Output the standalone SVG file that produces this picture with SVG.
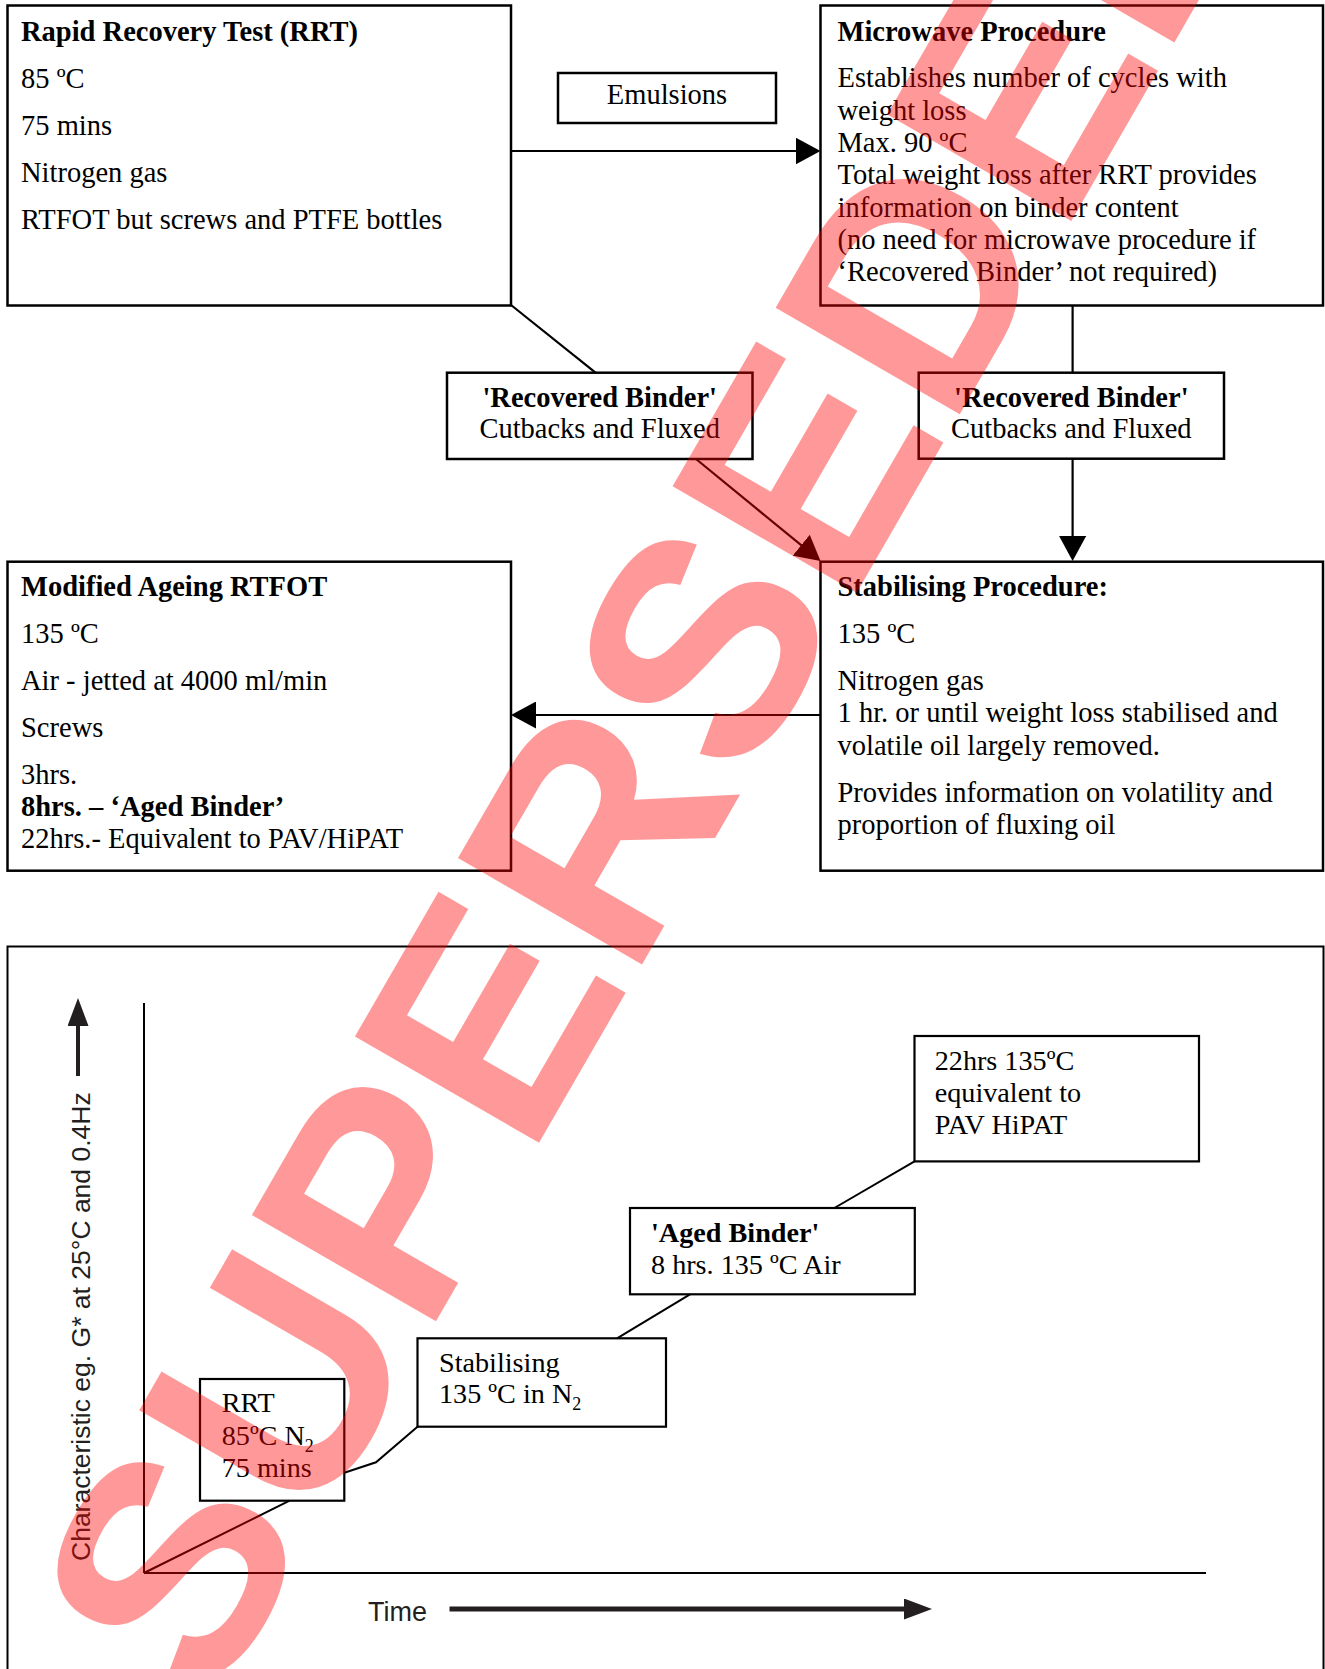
<svg xmlns="http://www.w3.org/2000/svg" width="1325" height="1669" viewBox="0 0 1325 1669">
<style>
  .box{fill:#fff;stroke:#000;stroke-width:2.5}
  .cbox{fill:#fff;stroke:#000;stroke-width:2.2}
  .t{font-family:"Liberation Serif","Times New Roman",serif;font-size:28.5px;fill:#000}
  .ct{font-family:"Liberation Serif","Times New Roman",serif;font-size:28.2px;fill:#000}
  .b{font-weight:bold}
  .c{text-anchor:middle}
  .ln{stroke:#000;stroke-width:2.2;fill:none}
  .cl{stroke:#000;stroke-width:2;fill:none}
  .sans{font-family:"Liberation Sans",Arial,sans-serif;fill:#231f20}
  .wm{font-family:"Liberation Sans",Arial,sans-serif;font-weight:bold;font-size:309px;fill:#ff0000;fill-opacity:0.4}
</style>
<defs>
  <marker id="ah" markerUnits="userSpaceOnUse" viewBox="0 0 25 27" markerWidth="25" markerHeight="27" refX="15" refY="13.5" orient="auto">
    <path d="M0,0 L25,13.5 L0,27 z" fill="#000"/>
  </marker>
  <marker id="ah2" markerUnits="userSpaceOnUse" viewBox="0 0 28 21" markerWidth="28" markerHeight="21" refX="18" refY="10.5" orient="auto">
    <path d="M0,0 L28,10.5 L0,21 z" fill="#231f20"/>
  </marker>
</defs>
<rect width="1325" height="1669" fill="#fff"/>

<g id="rrt">
  <rect class="box" x="7.5" y="5.5" width="503.5" height="300"/>
  <text class="t b" x="21" y="41">Rapid Recovery Test (RRT)</text>
  <text class="t" x="21" y="88">85 ºC</text>
  <text class="t" x="21" y="135">75 mins</text>
  <text class="t" x="21" y="182">Nitrogen gas</text>
  <text class="t" x="21" y="229">RTFOT but screws and PTFE bottles</text>
</g>

<g id="emulsions">
  <rect class="box" x="558" y="73" width="218" height="50"/>
  <text class="t c" x="667" y="104">Emulsions</text>
</g>

<g id="microwave">
  <rect class="box" x="820.5" y="5.5" width="502.5" height="300"/>
  <text class="t b" x="837.5" y="41">Microwave Procedure</text>
  <text class="t" x="837.5" y="87.3">Establishes number of cycles with</text>
  <text class="t" x="837.5" y="119.6">weight loss</text>
  <text class="t" x="837.5" y="151.9">Max. 90 ºC</text>
  <text class="t" x="837.5" y="184.2">Total weight loss after RRT provides</text>
  <text class="t" x="837.5" y="216.5">information on binder content</text>
  <text class="t" x="837.5" y="248.8">(no need for microwave procedure if</text>
  <text class="t" x="837.5" y="281.1">‘Recovered Binder’ not required)</text>
</g>

<g id="recovered-left">
  <rect class="box" x="447" y="372.7" width="305.5" height="86.3"/>
  <text class="t b c" x="599.7" y="406.5">'Recovered Binder'</text>
  <text class="t c" x="599.7" y="438">Cutbacks and Fluxed</text>
</g>

<g id="recovered-right">
  <rect class="box" x="918.7" y="372.7" width="305.3" height="86"/>
  <text class="t b c" x="1071.3" y="406.5">'Recovered Binder'</text>
  <text class="t c" x="1071.3" y="438">Cutbacks and Fluxed</text>
</g>

<g id="modified-ageing">
  <rect class="box" x="7.5" y="561.7" width="503.5" height="309"/>
  <text class="t b" x="21" y="596">Modified Ageing RTFOT</text>
  <text class="t" x="21" y="643.3">135 ºC</text>
  <text class="t" x="21" y="690">Air - jetted at 4000 ml/min</text>
  <text class="t" x="21" y="736.7">Screws</text>
  <text class="t" x="21" y="784">3hrs.</text>
  <text class="t b" x="21" y="816">8hrs. – ‘Aged Binder’</text>
  <text class="t" x="21" y="848.3">22hrs.- Equivalent to PAV/HiPAT</text>
</g>

<g id="stabilising">
  <rect class="box" x="820.5" y="561.7" width="502.5" height="309"/>
  <text class="t b" x="837.5" y="596">Stabilising Procedure:</text>
  <text class="t" x="837.5" y="643.3">135 ºC</text>
  <text class="t" x="837.5" y="690">Nitrogen gas</text>
  <text class="t" x="837.5" y="722">1 hr. or until weight loss stabilised and</text>
  <text class="t" x="837.5" y="754.5">volatile oil largely removed.</text>
  <text class="t" x="837.5" y="801.5">Provides information on volatility and</text>
  <text class="t" x="837.5" y="833.5">proportion of fluxing oil</text>
</g>

<g id="chart">
  <rect class="cl" x="7.5" y="946.5" width="1316" height="760"/>
  <line class="cl" x1="144" y1="1003" x2="144" y2="1573"/>
  <line class="cl" x1="144" y1="1573" x2="1206" y2="1573"/>
  <text class="sans" font-size="26.5" transform="translate(90,1561) rotate(-90)">Characteristic eg. G* at 25°C and 0.4Hz</text>
  <line stroke="#231f20" stroke-width="4" x1="78" y1="1076" x2="78" y2="1008" marker-end="url(#ah2)"/>
  <text class="sans" font-size="27" x="368" y="1621">Time</text>
  <line stroke="#231f20" stroke-width="5" x1="449.5" y1="1609" x2="922" y2="1609" marker-end="url(#ah2)"/>
</g>

<g id="chart-rrt">
  <rect class="cbox" x="200" y="1379" width="144.3" height="121.7"/>
  <text class="ct" x="221.7" y="1411.7">RRT</text>
  <text class="ct" x="221.7" y="1445">85ºC N<tspan font-size="18" dy="7">2</tspan></text>
  <text class="ct" x="221.7" y="1476.7">75 mins</text>
</g>

<g id="chart-stabilising">
  <rect class="cbox" x="417.5" y="1338.3" width="248.5" height="88.4"/>
  <text class="ct" x="439" y="1372">Stabilising</text>
  <text class="ct" x="439" y="1403">135 ºC in N<tspan font-size="18" dy="7">2</tspan></text>
</g>

<g id="chart-aged">
  <rect class="cbox" x="630" y="1208" width="284.8" height="86.3"/>
  <text class="ct b" x="651" y="1242">'Aged Binder'</text>
  <text class="ct" x="651" y="1274">8 hrs. 135 ºC Air</text>
</g>

<g id="chart-22hrs">
  <rect class="cbox" x="914.5" y="1036" width="284.5" height="125.4"/>
  <text class="ct" x="934.7" y="1070">22hrs 135ºC</text>
  <text class="ct" x="934.7" y="1102">equivalent to</text>
  <text class="ct" x="934.7" y="1134">PAV HiPAT</text>
</g>

<g id="connectors">
  <line class="ln" x1="511" y1="151" x2="810.5" y2="151" marker-end="url(#ah)"/>
  <line class="ln" x1="511" y1="305" x2="595.5" y2="372.7"/>
  <line class="ln" x1="1072.6" y1="305.5" x2="1072.6" y2="372.7"/>
  <line class="ln" x1="1072.6" y1="458.7" x2="1072.6" y2="551" marker-end="url(#ah)"/>
  <line class="ln" x1="696" y1="459" x2="812.8" y2="554.7" marker-end="url(#ah)"/>
  <line class="ln" x1="820.5" y1="715" x2="521" y2="715" marker-end="url(#ah)"/>
  <polyline class="cl" points="144,1573 289.6,1500.7"/>
  <polyline class="cl" points="344.3,1472.7 376,1462.3 417.5,1426.7"/>
  <line class="cl" x1="617" y1="1338.3" x2="690" y2="1294.3"/>
  <line class="cl" x1="834.4" y1="1208" x2="914.5" y2="1161.4"/>
</g>

<text class="wm" transform="translate(211,1711) rotate(-60)">SUPERSEDED</text>
</svg>
